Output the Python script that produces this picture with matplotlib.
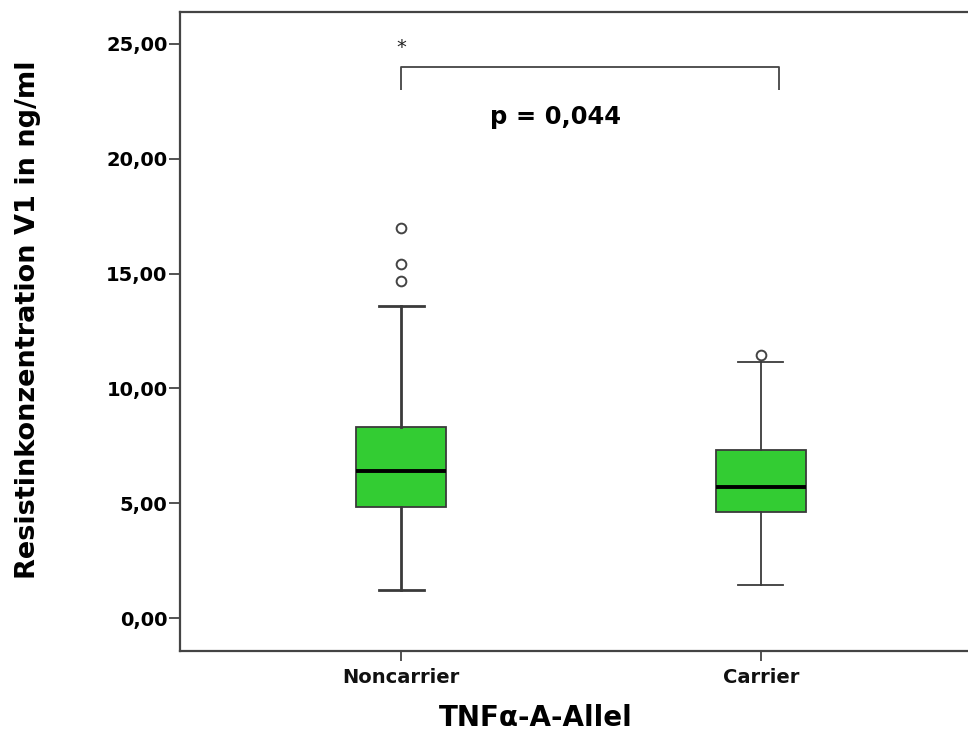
import matplotlib
matplotlib.use("Agg")
import matplotlib.pyplot as plt
from matplotlib.ticker import FuncFormatter

plt.rcParams['font.family'] = ['DejaVu Sans']

# ---- data ----
categories = ["Noncarrier", "Carrier"]
q1 = [4.85, 4.63]
median = [6.42, 5.69]
q3 = [8.33, 7.32]
whisker_low = [1.22, 1.44]
whisker_high = [13.59, 11.16]
outliers = [[16.97, 15.40, 14.69], [11.45]]
y_ticks = [0, 5, 10, 15, 20, 25]
p_text = "p = 0,044"
star_text = "*"
bracket_y = 24.0
bracket_drop = 1.0
x_label = "TNFα-A-Allel"
y_label = "Resistinkonzentration V1 in ng/ml"

W, H = 968, 731
fig = plt.figure(figsize=(W / 100, H / 100), dpi=100)
ax = fig.add_axes([180 / W, 1 - 651 / H, (982 - 180) / W, (651 - 12) / H])

positions = [1, 2]
stats = []
for i, c in enumerate(categories):
    stats.append(dict(label=c, q1=q1[i], med=median[i], q3=q3[i],
                      whislo=whisker_low[i], whishi=whisker_high[i],
                      fliers=outliers[i]))

edge = "#3a3a3a"
green = "#33CC33"
line_w = [2.0, 1.3]
for i, st in enumerate(stats):
    lw = line_w[i]
    ax.bxp([st], positions=[positions[i]], widths=0.25, capwidths=0.125,
           patch_artist=True,
           boxprops=dict(facecolor=green, edgecolor=edge, linewidth=1.3),
           medianprops=dict(color="black", linewidth=2.8),
           whiskerprops=dict(color=edge, linewidth=lw),
           capprops=dict(color=edge, linewidth=lw),
           flierprops=dict(marker="o", markersize=7, markerfacecolor="white",
                           markeredgecolor="#444444", markeredgewidth=1.4))

# significance bracket
bx = [positions[0], positions[0], positions[1] + 0.05, positions[1] + 0.05]
by = [bracket_y - bracket_drop, bracket_y, bracket_y, bracket_y - bracket_drop]
ax.plot(bx, by, color="#444444", linewidth=1.3, solid_capstyle="butt")
ax.text(positions[0], 24.85, star_text, ha="center", va="center", fontsize=14,
        color="#222222")
ax.text(1.43, 21.83, p_text, ha="center", va="center", fontsize=17.5,
        fontweight="bold", color="black")

ax.set_xlim(0.386, 2.614)
ax.set_ylim(-1.437, 26.39)
ax.set_yticks(y_ticks)
ax.yaxis.set_major_formatter(FuncFormatter(lambda v, p: f"{v:.2f}".replace(".", ",")))
ax.set_xticks(positions)
ax.set_xticklabels(categories)

for s in ax.spines.values():
    s.set_color("#444444")
    s.set_linewidth(1.6)

ax.tick_params(axis="y", length=8, width=1.3, color="#444444", pad=1,
               labelsize=14)
ax.tick_params(axis="x", length=7, width=1.3, color="#444444", pad=5,
               labelsize=14)
for lab in ax.get_yticklabels():
    lab.set_fontweight("bold")
for lab in ax.get_xticklabels():
    lab.set_fontweight("bold")
    lab.set_color("#111111")

fig.text(28 / W, 1 - 319.5 / H, y_label, rotation=90, ha="center", va="center",
         fontsize=19.5, fontweight="bold")
fig.text(536 / W, 1 - 718 / H, x_label, ha="center", va="center",
         fontsize=20, fontweight="bold")

fig.savefig("out.png", dpi=100)
